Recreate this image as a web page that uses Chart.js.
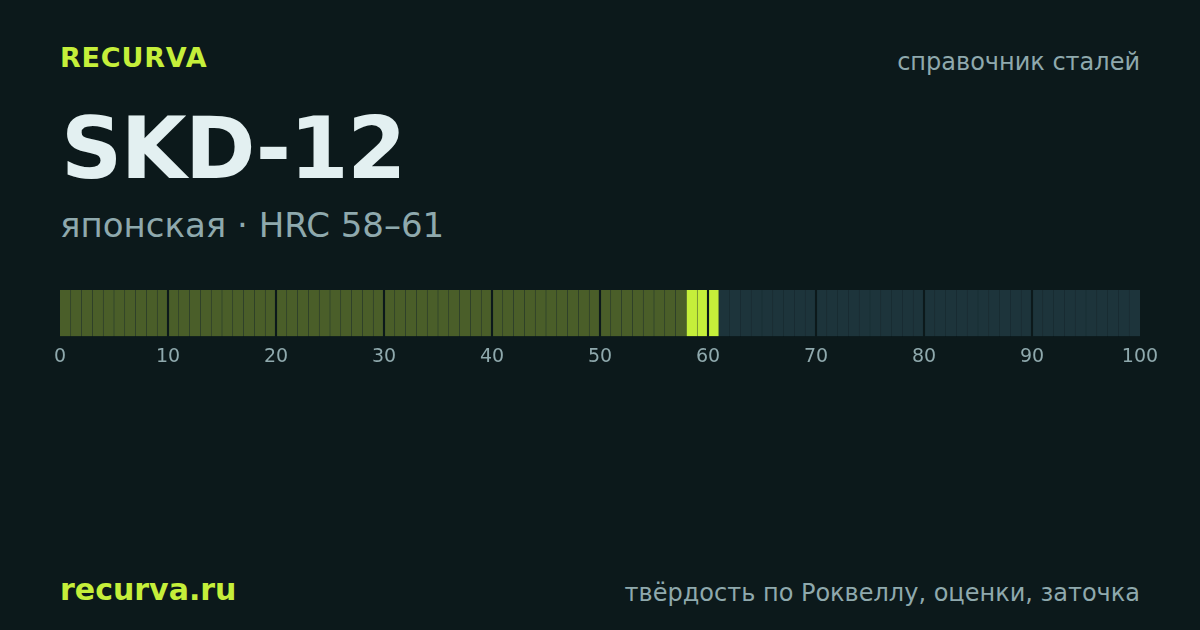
<!DOCTYPE html>
<html>
<head>
<meta charset="utf-8">
<script src="https://cdn.jsdelivr.net/npm/chart.js@4.4.1/dist/chart.umd.min.js"></script>
<style>
  html, body { margin: 0; padding: 0; }
  body { width: 1200px; height: 630px; background: #0c191b; position: relative; overflow: hidden; font-family: "DejaVu Sans", sans-serif; }
  .t { position: absolute; white-space: nowrap; line-height: 1; }
  #brand { left: 60px; top: 44px; font-size: 27px; font-weight: bold; color: #c5ef3a; letter-spacing: 0.8px; }
  #ref { right: 60px; top: 50px; font-size: 24px; color: #8fa9ad; }
  #title { left: 61px; top: 106px; font-size: 85px; font-weight: bold; color: #e3f0f1; letter-spacing: -1.5px; }
  #sub { left: 60px; top: 208px; font-size: 34px; color: #8fa9ad; }
  #site { left: 60px; top: 575px; font-size: 30px; font-weight: bold; color: #c5ef3a; }
  #foot { right: 60px; top: 581px; font-size: 24px; color: #8fa9ad; }
  #wrap { position: absolute; left: 0; top: 280px; width: 1200px; height: 108px; }
</style>
</head>
<body>
<div class="t" id="brand">RECURVA</div>
<div class="t" id="ref">справочник сталей</div>
<div class="t" id="title">SKD-12</div>
<div class="t" id="sub">японская · HRC 58–61</div>
<div class="t" id="site">recurva.ru</div>
<div class="t" id="foot">твёрдость по Роквеллу, оценки, заточка</div>
<div id="wrap"><canvas id="chart"></canvas></div>
<script>
// scale 0..100, one cell per HRC unit
const scaleMin = 0;
const scaleMax = 100;
const tickStep = 10;
const hrcFrom = 58;
const hrcTo = 61;
const rowLabel = ['HRC'];

const colFill = '#4a5e29';
const colHit = '#c5ef3a';
const colRest = '#1d343b';
const colTrack = '#16262b';

var cells = [];
var cellColors = [];
for (var i = scaleMin; i < scaleMax; i++) {
    var a = i + (i % tickStep === 0 && i !== scaleMin ? 0.13 : 0.05);
    var b = i + 1 - ((i + 1) % tickStep === 0 && i + 1 !== scaleMax ? 0.13 : 0.05);
    if (i === scaleMin) a = i;
    if (i + 1 === scaleMax) b = i + 1;
    cells.push({ x: [a, b], y: 'HRC' });
    if (i >= hrcFrom && i < hrcTo) cellColors.push(colHit);
    else if (i < hrcFrom) cellColors.push(colFill);
    else cellColors.push(colRest);
}
var track = [];
for (var d = scaleMin; d < scaleMax; d += tickStep) {
    track.push({ x: [d === scaleMin ? d : d + 0.13, d + tickStep === scaleMax ? d + tickStep : d + tickStep - 0.13], y: 'HRC' });
}

new Chart(document.getElementById('chart'), {
    type: 'bar',
    data: {
        labels: rowLabel,
        datasets: [
            { data: cells, backgroundColor: cellColors, borderWidth: 0, grouped: false, barPercentage: 1, categoryPercentage: 1, order: 0 },
            { data: track, backgroundColor: colTrack, borderWidth: 0, grouped: false, barPercentage: 1, categoryPercentage: 1, order: 1 }
        ]
    },
    options: {
        indexAxis: 'y',
        responsive: true,
        maintainAspectRatio: false,
        animation: false,
        layout: { padding: { left: 60, right: 60, top: 10, bottom: 11 } },
        plugins: { legend: { display: false }, tooltip: { enabled: false } },
        scales: {
            x: {
                type: 'linear',
                min: scaleMin,
                max: scaleMax,
                offset: false,
                grid: { display: false, drawTicks: false },
                border: { display: false },
                ticks: { stepSize: tickStep, color: '#8fa9ad', padding: 9, font: { family: 'DejaVu Sans', size: 19 } }
            },
            y: { display: false, offset: true }
        }
    }
});
</script>
</body>
</html>
